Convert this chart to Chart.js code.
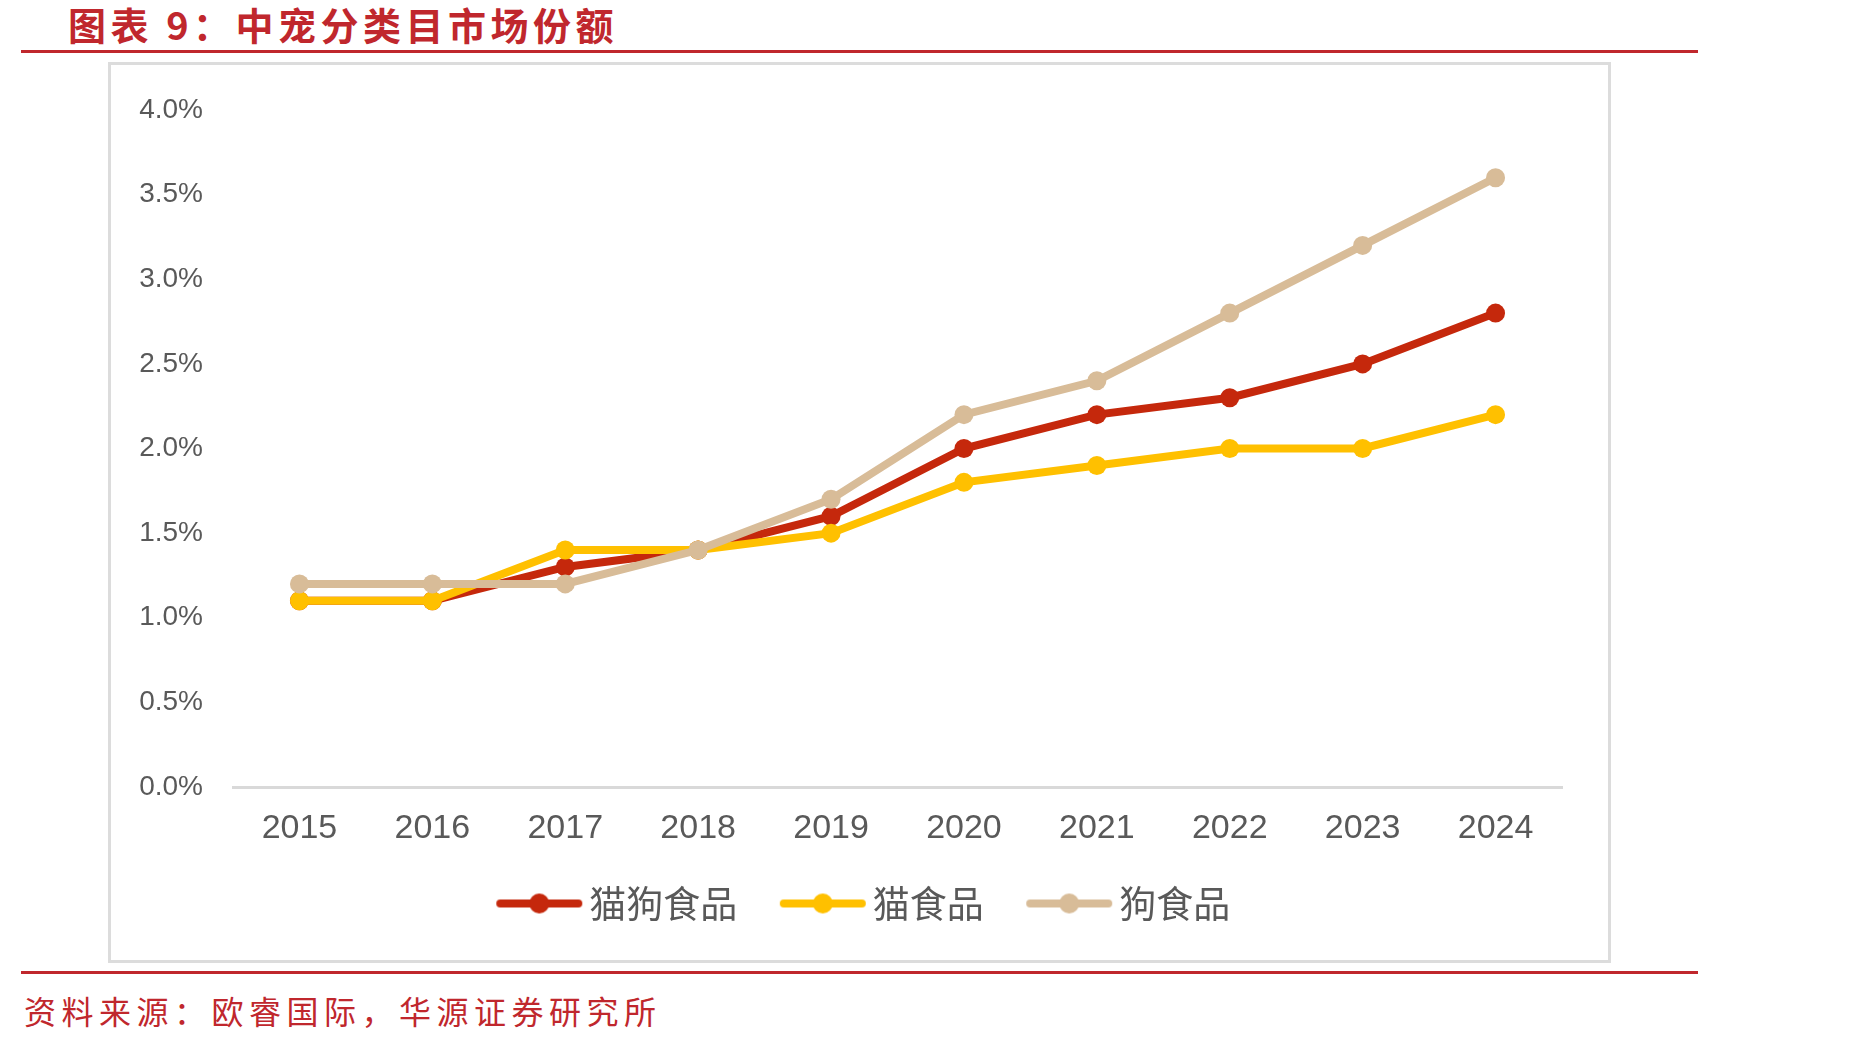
<!DOCTYPE html>
<html><head><meta charset="utf-8">
<script src="https://cdn.jsdelivr.net/npm/chart.js@4/dist/chart.umd.min.js"></script>
<style>
html,body{margin:0;padding:0;background:#fff;width:1853px;height:1045px;overflow:hidden;position:relative;font-family:"Noto Sans CJK SC",sans-serif}
#title{position:absolute;left:68px;top:0px;font-size:38px;font-weight:bold;color:#C0272D;letter-spacing:4.5px;line-height:48px}
.rule{position:absolute;left:21px;width:1677px;height:3px;background:#C0272D}
#box{position:absolute;left:108px;top:62px;width:1497px;height:895px;border:3px solid #DCDCDC}
#src{position:absolute;left:24px;top:988px;font-size:32px;color:#C0272D;letter-spacing:5.5px;line-height:44px}
#c{position:absolute;left:0;top:0}
</style></head><body>
<div id="title">图表 9：中宠分类目市场份额</div>
<div class="rule" style="top:50px"></div>
<div id="box"></div>
<div class="rule" style="top:971px"></div>
<div id="src">资料来源：欧睿国际，华源证券研究所</div>
<canvas id="c" width="1853" height="1045"></canvas>
<script>
const years = ['2015','2016','2017','2018','2019','2020','2021','2022','2023','2024'];
const catDog = [1.1,1.1,1.3,1.4,1.6,2.0,2.2,2.3,2.5,2.8];
const cat = [1.1,1.1,1.4,1.4,1.5,1.8,1.9,2.0,2.0,2.2];
const dog = [1.2,1.2,1.2,1.4,1.7,2.2,2.4,2.8,3.2,3.6];
const names = ['猫狗食品','猫食品','狗食品'];
const colors = ['#C5280C','#FFC000','#D8BC98'];
const numFont = '"Liberation Sans",Arial,sans-serif';

function legendIcon(color){
  const cv=document.createElement('canvas'); cv.width=88; cv.height=24;
  const g=cv.getContext('2d');
  g.strokeStyle=color; g.lineWidth=8; g.lineCap='round';
  g.beginPath(); g.moveTo(5,12); g.lineTo(83,12); g.stroke();
  g.fillStyle=color; g.beginPath(); g.arc(44,12,10,0,Math.PI*2); g.fill();
  return cv;
}
const icons = colors.map(legendIcon);
const series=[catDog,cat,dog];
const orders=[2,1,0];
const datasets = series.map((d,i)=>({
  label:names[i], data:d, borderColor:colors[i], backgroundColor:colors[i],
  borderWidth:8, pointRadius:9.5, pointBorderWidth:0, pointBackgroundColor:colors[i],
  tension:0, order:orders[i], pointStyle:'circle'
}));

const legendShift = {
  id:'legendShift',
  afterLayout(chart){
    const lg = chart.legend; if(!lg) return;
    lg.left += 33; lg.right += 33; lg.top -= 20; lg.bottom -= 20;
  }
};

new Chart(document.getElementById('c'),{
  type:'line',
  data:{labels:years,datasets},
  plugins:[legendShift],
  options:{
    responsive:false, animation:false,
    layout:{padding:{left:110,right:291,top:110,bottom:93}},
    plugins:{
      tooltip:{enabled:false},
      legend:{position:'bottom',
        labels:{usePointStyle:true,pointStyleWidth:63,boxHeight:24,padding:54,color:'#595959',
          font:{family:'"Noto Sans CJK SC"',size:37},
          sort:(a,b)=>a.datasetIndex-b.datasetIndex,
          generateLabels:(chart)=>chart.data.datasets.map((ds,i)=>({
            text:ds.label, fillStyle:ds.borderColor, strokeStyle:ds.borderColor, lineWidth:0,
            pointStyle:icons[i], datasetIndex:i, hidden:false, fontColor:'#595959'}))
        }}
    },
    scales:{
      x:{offset:true, grid:{display:false,drawTicks:false},
        border:{display:true,color:'#D9D9D9',width:3},
        ticks:{color:'#595959',padding:21,font:{family:numFont,size:34}},
        afterFit:(s)=>{s.height=64;}
      },
      y:{min:0,max:4,grid:{display:false,drawTicks:false},border:{display:false},
        ticks:{stepSize:0.5,color:'#595959',padding:30,font:{family:numFont,size:28},
          callback:(v)=>v.toFixed(1)+'%'},
        afterFit:(s)=>{s.width=123;}
      }
    }
  }
});
</script>
</body></html>
